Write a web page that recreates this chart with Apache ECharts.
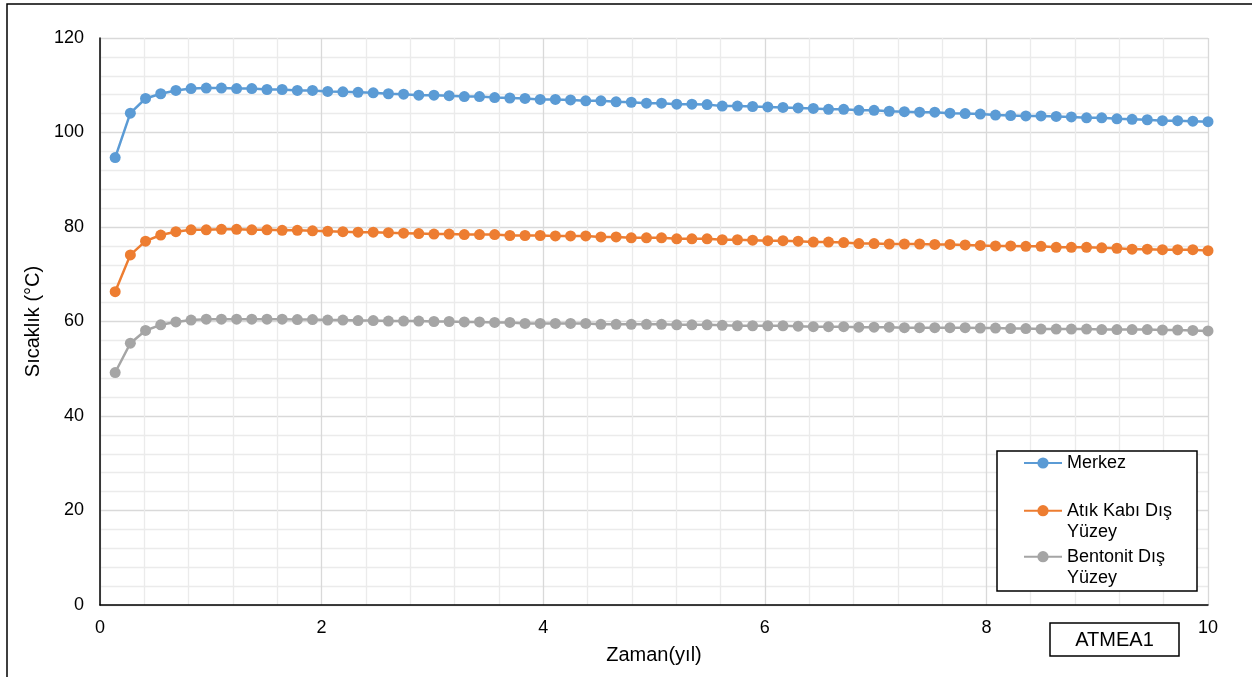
<!DOCTYPE html>
<html>
<head>
<meta charset="utf-8">
<script src="https://cdn.jsdelivr.net/npm/echarts@6/dist/echarts.min.js"></script>
<style>
html,body{margin:0;padding:0;background:#fff;}
#chart{width:1252px;height:677px;}
</style>
</head>
<body>
<div id="chart"></div>
<script>
// Time (years), one point every ~50 days
const years = [0.137,0.274,0.411,0.548,0.685,0.822,0.959,1.096,1.233,1.370,1.507,1.644,1.781,1.918,2.055,2.192,2.329,2.466,2.603,2.740,2.877,3.014,3.151,3.288,3.425,3.562,3.699,3.836,3.973,4.110,4.247,4.384,4.521,4.658,4.795,4.932,5.068,5.205,5.342,5.479,5.616,5.753,5.890,6.027,6.164,6.301,6.438,6.575,6.712,6.849,6.986,7.123,7.260,7.397,7.534,7.671,7.808,7.945,8.082,8.219,8.356,8.493,8.630,8.767,8.904,9.041,9.178,9.315,9.452,9.589,9.726,9.863,10.000];

const merkez = [94.7,104.1,107.2,108.2,108.9,109.3,109.4,109.4,109.3,109.3,109.1,109.1,108.9,108.9,108.7,108.6,108.5,108.4,108.2,108.1,107.9,107.9,107.8,107.6,107.6,107.4,107.3,107.2,107.0,107.0,106.9,106.7,106.7,106.5,106.4,106.2,106.2,106.0,106.0,105.9,105.6,105.6,105.5,105.4,105.3,105.2,105.1,104.9,104.9,104.7,104.7,104.5,104.4,104.3,104.3,104.1,104.0,103.9,103.7,103.6,103.5,103.5,103.4,103.3,103.1,103.1,102.9,102.8,102.7,102.5,102.5,102.4,102.3];

const atikKabi = [66.3,74.1,77.0,78.3,79.0,79.4,79.4,79.5,79.5,79.4,79.4,79.3,79.3,79.2,79.1,79.0,78.9,78.9,78.8,78.7,78.6,78.5,78.5,78.4,78.4,78.4,78.2,78.2,78.2,78.1,78.1,78.1,77.9,77.9,77.7,77.7,77.7,77.5,77.5,77.5,77.3,77.3,77.2,77.1,77.1,77.0,76.8,76.8,76.7,76.5,76.5,76.4,76.4,76.4,76.3,76.3,76.2,76.1,76.0,76.0,75.9,75.9,75.7,75.7,75.7,75.6,75.5,75.3,75.3,75.2,75.2,75.2,75.0];

const bentonit = [49.2,55.4,58.1,59.3,59.9,60.3,60.5,60.5,60.5,60.5,60.5,60.5,60.4,60.4,60.3,60.3,60.2,60.2,60.1,60.1,60.1,60.0,60.0,59.9,59.9,59.8,59.8,59.6,59.6,59.6,59.6,59.6,59.4,59.4,59.4,59.4,59.4,59.3,59.3,59.3,59.2,59.1,59.1,59.1,59.1,59.0,58.9,58.9,58.9,58.8,58.8,58.8,58.7,58.7,58.7,58.7,58.7,58.6,58.6,58.5,58.5,58.4,58.4,58.4,58.4,58.3,58.3,58.3,58.3,58.2,58.2,58.1,58.0];

const seriesNames = ['Merkez', 'Atık Kabı Dış Yüzey', 'Bentonit Dış Yüzey'];
const legendLabels = ['Merkez', ' \nAtık Kabı Dış\nYüzey', ' \nBentonit Dış\nYüzey'];
const colors = ['#5B9BD5', '#ED7D31', '#A5A5A5'];
const xTitle = 'Zaman(yıl)';
const yTitle = 'Sıcaklık (°C)';
const tagText = 'ATMEA1';

const FONT = '"Liberation Sans", Arial, sans-serif';

function pairs(ys) { return years.map((x, i) => [x, ys[i]]); }
const allValues = [merkez, atikKabi, bentonit];

const legendTops = [452.5, 479.2, 525.2];

const chart = echarts.init(document.getElementById('chart'), null, {renderer: 'canvas'});
chart.setOption({
  animation: false,
  backgroundColor: '#fff',
  color: colors,
  textStyle: {fontFamily: FONT},
  grid: {left: 100, right: 44, top: 38, bottom: 72, containLabel: false},
  xAxis: {
    type: 'value', min: 0, max: 10, interval: 2,
    name: xTitle, nameLocation: 'middle', nameGap: 40,
    nameTextStyle: {fontSize: 20, color: '#000', fontFamily: FONT},
    axisLine: {show: true, onZero: false, lineStyle: {color: '#000', width: 1.5}},
    axisTick: {show: false},
    axisLabel: {fontSize: 18, color: '#000', margin: 14, fontFamily: FONT},
    splitLine: {show: true, lineStyle: {color: '#d9d9d9', width: 1.3}},
    minorTick: {show: false, splitNumber: 5},
    minorSplitLine: {show: true, lineStyle: {color: '#ebebeb', width: 1.3}}
  },
  yAxis: {
    type: 'value', min: 0, max: 120, interval: 20,
    name: yTitle, nameLocation: 'middle', nameGap: 55,
    nameTextStyle: {fontSize: 20, color: '#000', fontFamily: FONT},
    axisLine: {show: true, lineStyle: {color: '#000', width: 1.5}},
    axisTick: {show: false},
    axisLabel: {fontSize: 18, color: '#000', margin: 16, fontFamily: FONT},
    splitLine: {show: true, lineStyle: {color: '#d9d9d9', width: 1.3}},
    minorTick: {show: false, splitNumber: 5},
    minorSplitLine: {show: true, lineStyle: {color: '#ebebeb', width: 1.3}}
  },
  legend: seriesNames.map((n, i) => ({
    data: [n],
    orient: 'vertical',
    left: 1023, top: legendTops[i],
    padding: 0,
    itemWidth: 38, itemHeight: 14,
    itemGap: 0,
    selectedMode: false,
    formatter: () => legendLabels[i],
    textStyle: {fontSize: 18, lineHeight: 21, color: '#000', fontFamily: FONT}
  })),
  graphic: [
    {type: 'rect', silent: true, z: -10, shape: {x: 7, y: 4, width: 1300, height: 720},
     style: {fill: 'none', stroke: '#000', lineWidth: 1.5}},
    {type: 'rect', silent: true, z: 1, shape: {x: 997, y: 451, width: 200, height: 140},
     style: {fill: '#fff', stroke: '#000', lineWidth: 1.5}},
    {type: 'rect', silent: true, z: 1, shape: {x: 1050, y: 623, width: 129, height: 33},
     style: {fill: '#fff', stroke: '#000', lineWidth: 1.5}},
    {type: 'text', silent: true, z: 2, x: 1114.5, y: 640,
     style: {text: tagText, fontSize: 20, fontFamily: FONT, fill: '#000', align: 'center', verticalAlign: 'middle'}}
  ],
  series: seriesNames.map((n, i) => ({
    name: n,
    type: 'line',
    data: pairs(allValues[i]),
    symbol: 'circle',
    symbolSize: 11,
    showSymbol: true,
    lineStyle: {width: 2.5, color: colors[i]},
    itemStyle: {color: colors[i]}
  }))
});
</script>
</body>
</html>
